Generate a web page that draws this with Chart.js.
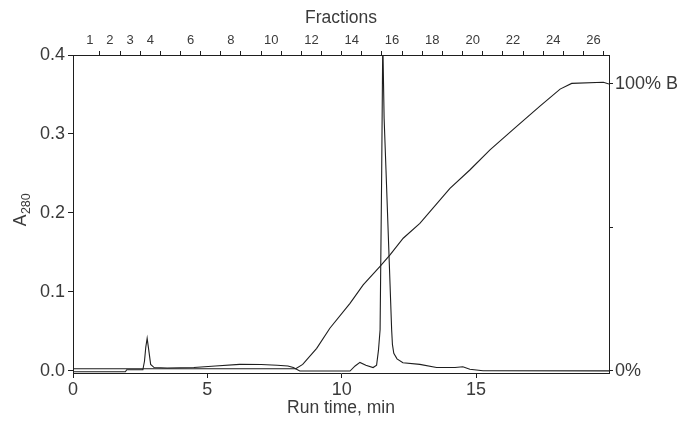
<!DOCTYPE html>
<html lang="en">
<head>
  <meta charset="UTF-8">
  <title>A280 run with fractions</title>
  <script src="https://cdn.jsdelivr.net/npm/chart.js"></script>
  <style>
    body { margin: 0; background: #fff; }
    #wrap { width: 679px; height: 422px; position: relative; }
  </style>
</head>
<body>
  <div id="wrap"><canvas id="runChart"></canvas></div>
  <script>
    // absorbance trace: run time (min) and A280
    const a280Time = [0, 1.95, 2.0, 2.6, 2.66, 2.71, 2.76, 2.82, 2.89, 3.02, 3.5, 4.5, 5.3, 6.2, 7.0, 7.6, 8.0, 8.2, 8.44,
      10.31, 10.5, 10.68, 10.9, 11.17, 11.3, 11.37, 11.43, 11.49, 11.53, 11.58, 11.65, 11.86, 11.89, 11.94, 12.06,
      12.28, 12.91, 13.53, 14.22, 14.51, 14.77, 15.26, 19.95];
    const a280Value = [-0.0013, -0.0013, 0.0012, 0.0012, 0.012, 0.03, 0.041, 0.026, 0.008, 0.004, 0.0035, 0.004, 0.006, 0.008, 0.0078, 0.007, 0.006, 0.004, -0.0004,
      -0.0004, 0.006, 0.0105, 0.007, 0.004, 0.007, 0.026, 0.052, 0.254, 0.42, 0.32, 0.254, 0.052, 0.033, 0.022, 0.015,
      0.010, 0.008, 0.004, 0.004, 0.005, 0.0018, 0.0, -0.0002];

    // gradient: run time (min) and % B
    const gradTime = [0, 8.29, 8.55, 9.07, 9.56, 10.31, 10.8, 11.42, 11.8, 12.29, 12.91, 14.03, 14.77, 15.52, 16.45, 17.38, 18.13, 18.56, 19.74, 19.95];
    const gradPct = [0.7, 0.7, 2.2, 7.8, 14.8, 23.5, 29.9, 36.3, 40.4, 46.2, 51.4, 63.6, 70.0, 77.0, 84.7, 92.3, 98.2, 100.2, 100.6, 100];

    const timeTicks = [0, 5, 10, 15];
    const a280Ticks = [0, 0.1, 0.2, 0.3, 0.4];
    const gradTicks = [0, 50, 100];
    const gradTickLabels = ['0%', '', '100% B'];

    // fractions collected, 0.75 min each, first one starting at 0.25 min
    const fractionNumbers = [1, 2, 3, 4, 5, 6, 7, 8, 9, 10, 11, 12, 13, 14, 15, 16, 17, 18, 19, 20, 21, 22, 23, 24, 25, 26];
    const fractionLabels = ['1', '2', '3', '4', '6', '8', '10', '12', '14', '16', '18', '20', '22', '24', '26'];
    const fractionStart = 0.25;
    const fractionWidth = 0.75;

    const ink = '#1e1e1e';
    const textInk = '#3a3a3a';
    const family = "'Liberation Sans', Arial, sans-serif";
    Chart.defaults.font.family = family;
    Chart.defaults.color = textInk;

    // top axis: tick marks at fraction edges, labels at fraction middles
    const topTicks = [];
    fractionNumbers.forEach(n => {
      topTicks.push({ value: fractionStart + fractionWidth * n, edge: true, label: '' });
      if (fractionLabels.includes(String(n))) {
        topTicks.push({ value: fractionStart + fractionWidth * (n - 0.5), edge: false, label: String(n) });
      }
    });
    topTicks.sort((a, b) => a.value - b.value);

    const toPoints = (xs, ys) => xs.map((x, i) => ({ x: x, y: ys[i] }));

    // A280 axis title with a real subscript
    const a280Title = {
      id: 'a280Title',
      afterDraw(chart) {
        const ctx = chart.ctx;
        const area = chart.chartArea;
        const big = '17.5px ' + family;
        const small = '12.5px ' + family;
        ctx.save();
        ctx.fillStyle = textInk;
        ctx.textBaseline = 'alphabetic';
        ctx.font = big;
        const wA = ctx.measureText('A').width;
        ctx.font = small;
        const wSub = ctx.measureText('280').width;
        ctx.translate(26, (area.top + area.bottom) / 2 - 4);
        ctx.rotate(-Math.PI / 2);
        const x0 = -(wA + wSub) / 2;
        ctx.font = big;
        ctx.fillText('A', x0, 0);
        ctx.font = small;
        ctx.fillText('280', x0 + wA + 0.5, 4);
        ctx.restore();
      }
    };

    new Chart(document.getElementById('runChart'), {
      type: 'line',
      data: {
        datasets: [
          {
            label: 'A280',
            data: toPoints(a280Time, a280Value),
            xAxisID: 'x',
            yAxisID: 'y',
            borderColor: ink,
            borderWidth: 1.1,
            pointRadius: 0,
            tension: 0,
            clip: 0
          },
          {
            label: '% B',
            data: toPoints(gradTime, gradPct),
            xAxisID: 'x',
            yAxisID: 'y2',
            borderColor: ink,
            borderWidth: 1.1,
            pointRadius: 0,
            tension: 0,
            clip: 0
          }
        ]
      },
      options: {
        responsive: true,
        maintainAspectRatio: false,
        animation: false,
        layout: { padding: 0 },
        plugins: {
          legend: { display: false },
          tooltip: { enabled: false }
        },
        scales: {
          x: {
            type: 'linear',
            position: 'bottom',
            min: 0,
            max: 19.95,
            afterBuildTicks: s => { s.ticks = timeTicks.map(v => ({ value: v })); },
            afterFit: s => { s.height = 49; },
            grid: { drawOnChartArea: false, tickLength: 5, color: ink },
            border: { color: ink, width: 1 },
            ticks: { font: { size: 18 }, padding: 1, maxRotation: 0, autoSkip: false },
            title: { display: true, text: 'Run time, min', font: { size: 17.5 }, padding: { top: 0, bottom: 3 } }
          },
          x2: {
            type: 'linear',
            position: 'top',
            min: 0,
            max: 19.95,
            afterBuildTicks: s => { s.ticks = topTicks.map(t => ({ value: t.value })); },
            afterFit: s => { s.height = 55; },
            grid: {
              drawOnChartArea: false,
              tickLength: 4,
              color: ink,
              tickColor: ctx => (topTicks[ctx.index] && topTicks[ctx.index].edge) ? ink : 'rgba(0,0,0,0)'
            },
            border: { color: ink, width: 1 },
            ticks: {
              font: { size: 13 },
              padding: 3,
              maxRotation: 0,
              autoSkip: false,
              callback: (v, i) => topTicks[i] ? topTicks[i].label : ''
            },
            title: { display: true, text: 'Fractions', font: { size: 17.5 }, padding: { top: 8, bottom: 0 } }
          },
          y: {
            type: 'linear',
            position: 'left',
            min: -0.0029,
            max: 0.4,
            afterBuildTicks: s => { s.ticks = a280Ticks.map(v => ({ value: v })); },
            afterFit: s => { s.width = 73; },
            grid: { drawOnChartArea: false, tickLength: 5, color: ink },
            border: { color: ink, width: 1 },
            ticks: { font: { size: 18 }, padding: 3, callback: v => v.toFixed(1) }
          },
          y2: {
            type: 'linear',
            position: 'right',
            min: -0.8,
            max: 110.1,
            afterBuildTicks: s => { s.ticks = gradTicks.map(v => ({ value: v })); },
            afterFit: s => { s.width = 70; },
            grid: { drawOnChartArea: false, tickLength: 4, color: ink },
            border: { color: ink, width: 1 },
            ticks: {
              font: { size: 18 },
              padding: 2,
              callback: (v, i) => gradTickLabels[i]
            }
          }
        }
      },
      plugins: [a280Title]
    });
  </script>
</body>
</html>
